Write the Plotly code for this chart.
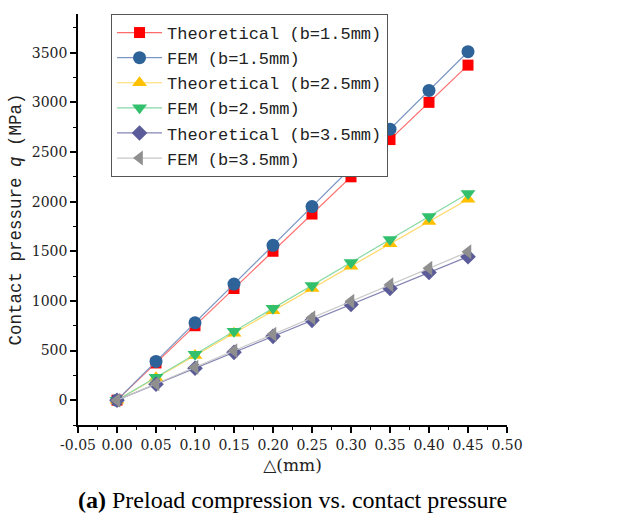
import plotly.graph_objects as go

x = [0.00, 0.05, 0.10, 0.15, 0.20, 0.25, 0.30, 0.35, 0.40, 0.45]

theo_15 = [0, 375, 750, 1125, 1500, 1875, 2250, 2625, 3000, 3375]
fem_15 = [0, 390, 780, 1170, 1560, 1950, 2340, 2730, 3120, 3510]
theo_25 = [0, 225, 450, 675, 900, 1125, 1350, 1575, 1800, 2025]
fem_25 = [0, 231, 463, 694, 925, 1156, 1388, 1619, 1850, 2081]
theo_35 = [0, 161, 321, 482, 643, 804, 964, 1125, 1286, 1446]
fem_35 = [0, 166, 332, 498, 664, 830, 996, 1162, 1328, 1494]

names = ["Theoretical (b=1.5mm)", "FEM (b=1.5mm)", "Theoretical (b=2.5mm)",
         "FEM (b=2.5mm)", "Theoretical (b=3.5mm)", "FEM (b=3.5mm)"]
series = [theo_15, fem_15, theo_25, fem_25, theo_35, fem_35]
symbols = ["square", "circle", "triangle-up", "triangle-down", "diamond", "triangle-left"]
marker_colors = ["#ff0000", "#2e6399", "#ffc000", "#33c06c", "#5b5b99", "#8f8f8f"]
line_colors = ["#ff6b6b", "#7c97c4", "#ffd866", "#86d9a4", "#8585b5", "#c8c8c8"]
sizes = [11, 13, 13, 13, 12, 13]

x_tickvals = [-0.05, 0.0, 0.05, 0.10, 0.15, 0.20, 0.25, 0.30, 0.35, 0.40, 0.45, 0.50]
x_ticktext = ["-0.05", "0.00", "0.05", "0.10", "0.15", "0.20", "0.25", "0.30", "0.35", "0.40", "0.45", "0.50"]
y_tickvals = [0, 500, 1000, 1500, 2000, 2500, 3000, 3500]

fig = go.Figure()
for nm, ys, sy, mc, lc, sz in zip(names, series, symbols, marker_colors, line_colors, sizes):
    fig.add_trace(go.Scatter(
        x=x, y=ys, name=nm, mode="lines+markers",
        line=dict(color=lc, width=1.2),
        marker=dict(symbol=sy, color=mc, size=sz, line=dict(width=0)),
    ))

tickfont = dict(family="DejaVu Serif", size=14, color="#222")
fig.update_layout(
    width=624, height=518,
    margin=dict(l=78, r=117, t=14, b=93),
    paper_bgcolor="white", plot_bgcolor="white",
    showlegend=True,
    legend=dict(
        x=0.077, y=1.0, xanchor="left", yanchor="top",
        bordercolor="#555555", borderwidth=1, bgcolor="white",
        font=dict(family="Liberation Mono", size=17, color="#222"),
        itemwidth=45, tracegroupgap=0,
    ),
    xaxis=dict(
        range=[-0.05, 0.50], tickvals=x_tickvals, ticktext=x_ticktext, tickangle=0,
        showline=True, linecolor="black", linewidth=1.5, mirror=False,
        ticks="outside", ticklen=6, tickwidth=1.5, tickcolor="black",
        minor=dict(dtick=0.025, ticks="outside", ticklen=3, tickwidth=1.2, tickcolor="black", tick0=0),
        showgrid=False, zeroline=False, tickfont=tickfont, automargin=False,
        title=dict(text="△(mm)", font=dict(family="DejaVu Serif", size=17, color="#222"), standoff=8),
    ),
    yaxis=dict(
        range=[-250, 3890], tickvals=y_tickvals,
        showline=True, linecolor="black", linewidth=1.5, mirror=False,
        ticks="outside", ticklen=6, tickwidth=1.5, tickcolor="black",
        minor=dict(dtick=250, ticks="outside", ticklen=3, tickwidth=1.2, tickcolor="black", tick0=0),
        showgrid=False, zeroline=False, tickfont=tickfont, automargin=False,
        title=dict(text="Contact pressure <i>q</i> (MPa)", font=dict(family="Liberation Mono", size=17.5, color="#222"), standoff=6),
    ),
)

fig.add_annotation(
    text="<b>(a)</b> Preload compression vs. contact pressure",
    xref="paper", yref="paper", x=0.5, y=-0.182, xanchor="center", yanchor="middle",
    showarrow=False, font=dict(family="Liberation Serif", size=24, color="black"),
)

fig.write_html(
    "out.html",
    config={"displayModeBar": False},
    post_script="document.body.style.margin='0';document.body.style.overflow='hidden';",
)
